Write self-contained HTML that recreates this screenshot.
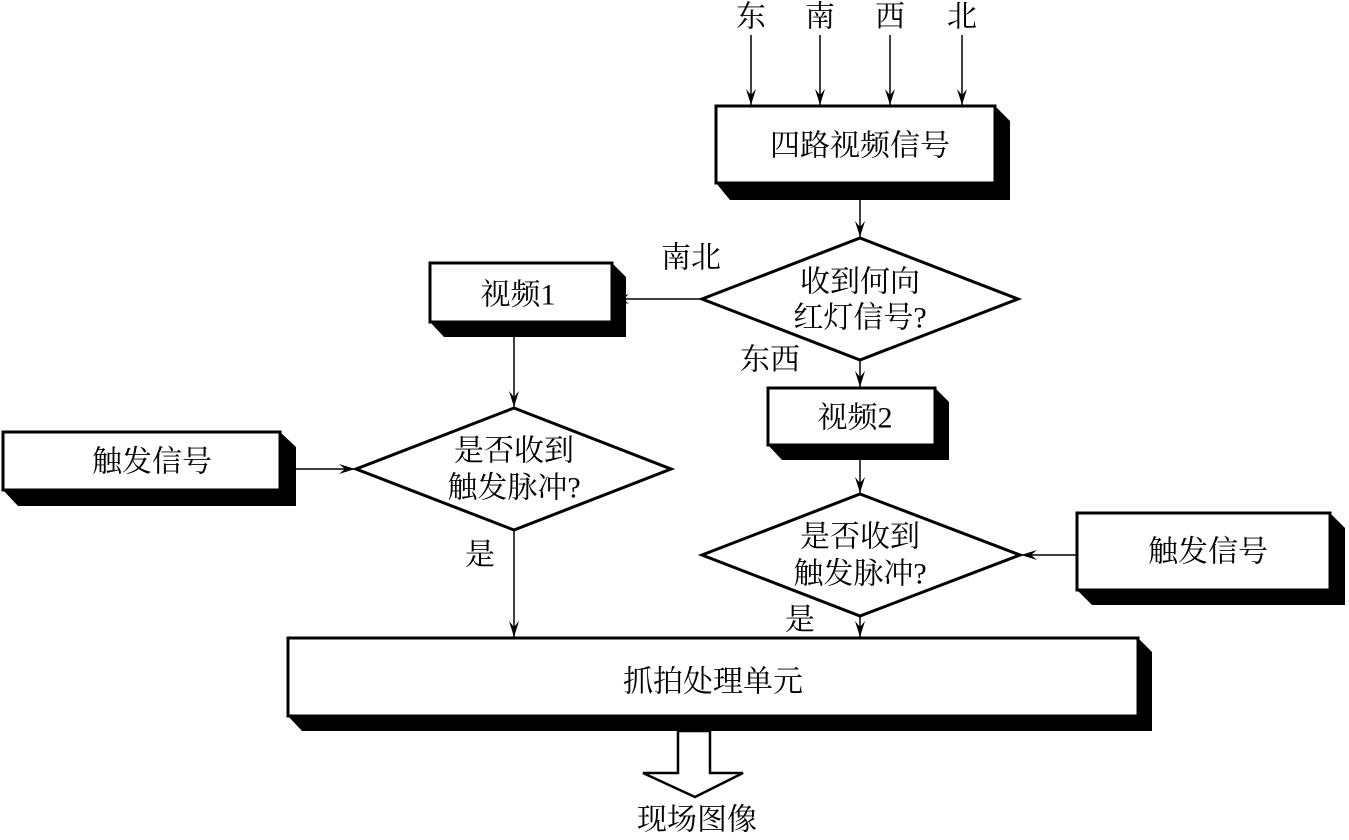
<!DOCTYPE html>
<html><head><meta charset="utf-8"><style>
html,body{margin:0;padding:0;background:#fff;}
svg text{font-family:"Liberation Serif","Noto Serif CJK SC",serif;font-size:30px;fill:#000;text-anchor:middle;dominant-baseline:central;}
</style></head><body>
<svg width="1349" height="835" viewBox="0 0 1349 835" xmlns="http://www.w3.org/2000/svg">
<defs>
<marker id="h" markerWidth="16" markerHeight="10" refX="16" refY="5" orient="auto" markerUnits="userSpaceOnUse" viewBox="0 0 16 10">
<path d="M0,0 L16,5 L0,10 L6,5 Z" fill="#000"/></marker>
</defs>
<g stroke="#000" stroke-width="1.5" fill="none" marker-end="url(#h)">
<line x1="751" y1="35" x2="751" y2="105"/>
<line x1="820" y1="35" x2="820" y2="105"/>
<line x1="890" y1="35" x2="890" y2="105"/>
<line x1="962" y1="35" x2="962" y2="105"/>
<line x1="860" y1="200" x2="860" y2="237"/>
<line x1="702" y1="299" x2="613" y2="299"/>
<line x1="860" y1="360" x2="860" y2="387"/>
<line x1="514" y1="337" x2="514" y2="407"/>
<line x1="296" y1="469" x2="355" y2="469"/>
<line x1="860" y1="460" x2="860" y2="493"/>
<line x1="1077" y1="555" x2="1021" y2="555"/>
<line x1="514" y1="530" x2="514" y2="637"/>
<line x1="860" y1="616" x2="860" y2="637"/>
</g>
<g fill="#000">
<polygon points="995,106 1010,121 1010,200 730,200 716,183 995,183"/>
<polygon points="612,263 626,277 626,337 444,337 430,322 612,322"/>
<polygon points="935,388 949,402 949,460 782,460 768,445 935,445"/>
<polygon points="280,432 296,447 296,506 18,506 3,490 280,490"/>
<polygon points="1330,513 1345,528 1345,605 1092,605 1077,590 1330,590"/>
<polygon points="1138,638 1152,652 1152,731 302,731 288,716 1138,716"/>
</g>
<g fill="#fff" stroke="#000" stroke-width="3">
<rect x="716" y="106" width="279" height="77"/>
<rect x="430" y="263" width="182" height="59"/>
<rect x="768" y="388" width="167" height="57"/>
<rect x="3" y="432" width="277" height="58"/>
<rect x="1077" y="513" width="253" height="77"/>
<rect x="288" y="638" width="850" height="78"/>
<polygon points="860,238 1018,299 860,360 702,299"/>
<polygon points="514,408 671,469 514,530 356,469"/>
<polygon points="860,494 1020,555 860,616 702,555"/>
<polygon points="678,731 710,731 710,773 743,773 695,797 643,773 678,773" stroke-width="2.5"/>
</g>
<text x="751" y="17">东</text><text x="820" y="17">南</text><text x="890" y="17">西</text><text x="962" y="17">北</text>
<text x="860" y="146">四路视频信号</text>
<text x="860" y="282">收到何向</text><text x="860" y="318">红灯信号?</text>
<text x="691" y="258">南北</text><text x="770" y="360">东西</text>
<text x="518" y="295">视频1</text>
<text x="855" y="418">视频2</text>
<text x="152" y="462">触发信号</text>
<text x="1208" y="552">触发信号</text>
<text x="514" y="451">是否收到</text><text x="514" y="488">触发脉冲?</text>
<text x="860" y="537">是否收到</text><text x="860" y="574">触发脉冲?</text>
<text x="480" y="555">是</text><text x="800" y="620">是</text>
<text x="713" y="682">抓拍处理单元</text>
<text x="697" y="820">现场图像</text>
</svg>
</body></html>
